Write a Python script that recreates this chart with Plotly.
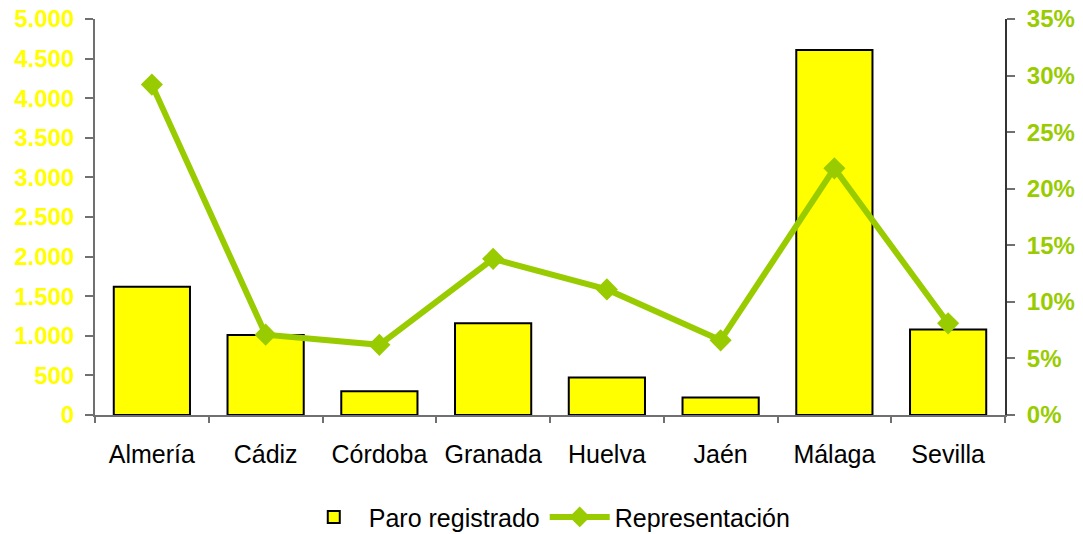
import plotly.graph_objects as go

provincias = ["Almería", "Cádiz", "Córdoba", "Granada", "Huelva", "Jaén", "Málaga", "Sevilla"]
paro_registrado = [1620, 1010, 300, 1160, 475, 220, 4610, 1080]
representacion = [0.292, 0.071, 0.062, 0.138, 0.111, 0.066, 0.218, 0.081]

left_ticks = [0, 500, 1000, 1500, 2000, 2500, 3000, 3500, 4000, 4500, 5000]
left_labels = ["0", "500", "1.000", "1.500", "2.000", "2.500", "3.000", "3.500", "4.000", "4.500", "5.000"]
right_ticks = [0, 0.05, 0.10, 0.15, 0.20, 0.25, 0.30, 0.35]
right_labels = ["0%", "5%", "10%", "15%", "20%", "25%", "30%", "35%"]

FONT = "Arial, Liberation Sans, sans-serif"
GREEN = "#99CC00"
YELLOW = "#FFFF00"
AXIS = "#707070"

fig = go.Figure()
fig.add_trace(go.Bar(
    x=provincias, y=paro_registrado, name="Paro registrado",
    marker=dict(color=YELLOW, line=dict(color="black", width=2)),
    yaxis="y",
))
fig.add_trace(go.Scatter(
    x=provincias, y=representacion, name="Representación",
    mode="lines+markers",
    line=dict(color=GREEN, width=6),
    marker=dict(symbol="diamond", size=17, color=GREEN),
    yaxis="y2",
))

n = len(provincias)
bounds = [i - 0.5 for i in range(n + 1)]

fig.update_layout(
    width=1075, height=526,
    margin=dict(l=87, r=78, t=11, b=119, autoexpand=False),
    paper_bgcolor="white", plot_bgcolor="white",
    font=dict(family=FONT, size=25, color="black"),
    bargap=0.33,
    showlegend=True,
    legend=dict(orientation="h", x=0.497, xanchor="center", y=-0.258, yanchor="middle",
                font=dict(size=25, color="black"), itemwidth=60, traceorder="normal",
                tracegroupgap=0),
    xaxis=dict(
        type="category", range=[-0.5, n - 0.5], automargin=False,
        showline=True, linecolor=AXIS, linewidth=2,
        ticks="outside", tickson="boundaries", ticklen=6, tickcolor=AXIS, tickwidth=2,
        showgrid=False, tickfont=dict(size=25, color="black"),
        ticklabelstandoff=16,
    ),
    xaxis2=dict(
        overlaying="x", range=[-0.5, n - 0.5], tickvals=bounds, automargin=False,
        ticks="inside", ticklen=9, tickcolor=AXIS, tickwidth=2,
        showticklabels=False, showgrid=False, showline=False, zeroline=False,
        anchor="y",
    ),
    yaxis=dict(
        range=[0, 5000], tickvals=left_ticks, ticktext=left_labels, automargin=False,
        showline=True, linecolor=AXIS, linewidth=2,
        ticks="outside", ticklen=8, tickcolor=AXIS, tickwidth=2,
        showgrid=False, zeroline=False, ticklabeloverflow="allow",
        tickfont=dict(size=24, color=YELLOW, weight="bold"),
        ticklabelstandoff=6,
    ),
    yaxis2=dict(
        overlaying="y", side="right", range=[0, 0.35], automargin=False,
        tickvals=right_ticks, ticktext=right_labels,
        showline=True, linecolor="#333333", linewidth=2,
        ticks="outside", ticklen=8, tickcolor=AXIS, tickwidth=2,
        showgrid=False, zeroline=False, ticklabeloverflow="allow",
        tickfont=dict(size=24, color=GREEN, weight="bold"),
        ticklabelstandoff=7,
    ),
    yaxis3=dict(
        overlaying="y", side="left", range=[0, 5000], tickvals=left_ticks, automargin=False,
        ticks="inside", ticklen=8, tickcolor=AXIS, tickwidth=2,
        showticklabels=False, showgrid=False, showline=False, zeroline=False,
        anchor="x",
    ),
    yaxis4=dict(
        overlaying="y", side="right", range=[0, 0.35], tickvals=right_ticks, automargin=False,
        ticks="inside", ticklen=8, tickcolor=AXIS, tickwidth=2,
        showticklabels=False, showgrid=False, showline=False, zeroline=False,
        anchor="x",
    ),
)

fig.write_html("out.html")
